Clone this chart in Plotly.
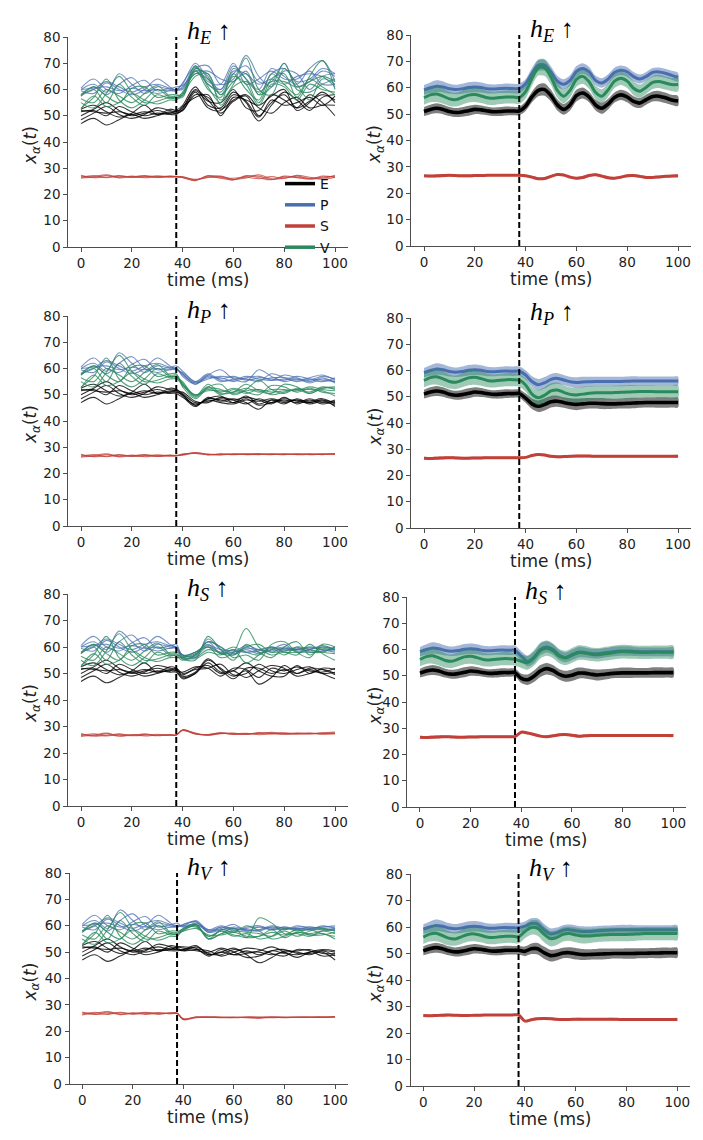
import plotly.graph_objects as go

W, H = 703, 1140        # browser window
OFF = 8                 # default page margin around the plot div
FW, FH = W - 2 * OFF, H - 2 * OFF

# ---------------- data ----------------
POPS = ["E", "P", "S", "V"]
ROW_STIM = ["E", "P", "S", "V"]          # population stimulated in each row
STIM_T = 37.5
X_TICKS = [0, 20, 40, 60, 80, 100]
Y_TICKS = [0, 10, 20, 30, 40, 50, 60, 70, 80]

# time grids (ms)
T_TR_PRE = [0, 5, 10, 15, 20, 25, 30, 35, 37.5]
T_TR_POST = [40, 45, 50, 55, 60, 65, 70, 75, 80, 85, 90, 95, 100]
T_M_PRE = [0, 2.5, 5, 7.5, 10, 12.5, 15, 17.5, 20, 22.5, 25, 27.5, 30, 32.5, 35, 37.5]
T_M_POST = [40, 42.5, 45, 47.5, 50, 52.5, 55, 57.5, 60, 62.5, 65, 67.5, 70,
            72.5, 75, 77.5, 80, 82.5, 85, 87.5, 90, 92.5, 95, 97.5, 100]

# ---- individual trials (left column), shared pre-stimulus part ----
TR_PRE_E = [
    [47, 49, 46.5, 48.5, 50.5, 49, 50, 51.5, 51],
    [48.5, 51, 53.5, 50.5, 49, 50.5, 53, 52, 51.5],
    [50, 52.5, 55, 52, 50, 51, 52, 51, 52],
    [51.5, 52, 50, 53.5, 51.5, 50, 51, 50.5, 50.5],
    [52, 51.5, 51, 51.5, 50.5, 51.5, 50.5, 51, 51],
    [52.5, 54, 51.5, 49.5, 51, 54, 50.5, 52.5, 52],
]
TR_PRE_P = [
    [60, 62, 59, 66, 62, 58.5, 61, 60, 60],
    [60.5, 64, 60, 58.5, 61.5, 63.5, 59.5, 60.5, 60],
    [59.5, 58.5, 62.5, 60, 58, 60, 64, 61, 59.5],
    [60, 60.5, 61, 59.5, 60.5, 59.5, 60, 59.5, 60],
    [58, 60, 63, 61, 59, 61, 62, 60.5, 61],
    [57.5, 61, 58, 62, 64.5, 60, 58.5, 59.5, 59.5],
]
TR_PRE_S = [
    [27, 26.5, 27.2, 26.3, 26.8, 27, 26.5, 26.9, 26.8],
    [26.5, 27.2, 26.4, 27, 26.5, 26.7, 27.1, 26.6, 26.8],
    [26.2, 26.8, 27.5, 26.5, 27, 26.4, 26.8, 27, 26.9],
    [27.3, 26.4, 26.6, 27.2, 26.6, 27.2, 26.6, 26.8, 26.7],
]
TR_PRE_V = [
    [53, 57, 64, 56, 53, 56, 60, 57, 57],
    [57.5, 60, 55, 62, 57, 54, 58, 56.5, 57],
    [55, 53, 58.5, 65, 59, 55, 55.5, 57, 56.5],
    [58, 61, 57.5, 55, 60.5, 61, 57, 58, 58],
    [56.5, 55, 60, 57.5, 55, 58.5, 61.5, 57.5, 57.5],
    [52.5, 57.5, 53.5, 55, 58.5, 56, 54.5, 56, 56],
]

# ---- post-stimulus trials, row 1 (h_E up) ----
TR_HE_E = [
    [52, 58, 57, 52.5, 56, 58, 53, 51, 55, 57, 53, 54, 54],
    [53, 60, 56, 51, 55.5, 57.5, 50, 55, 58, 53, 55.5, 58, 56],
    [54, 61, 54, 53, 59, 55, 48, 54, 59, 56, 52, 57, 58],
    [52.5, 59.5, 55.5, 55, 60, 53, 52, 58, 56, 53, 58, 55, 50],
    [53.5, 57, 58, 50, 57, 56, 54, 57.5, 60, 52, 55, 59, 55],
    [52, 59, 53, 52, 58, 55.5, 49.5, 56, 54, 55, 57, 54, 57.5],
]
TR_HE_P = [
    [60, 68, 69, 62, 64, 73, 65, 61, 67, 66, 60, 65, 66],
    [62, 70, 64, 60, 69, 64, 60, 68, 65, 62, 68, 71, 63],
    [61, 67, 66, 58, 66, 69, 63, 63, 70, 61, 63, 67, 65],
    [60.5, 69, 63, 62, 70, 62, 64, 67, 64, 64, 67, 62, 62],
    [61.5, 66, 67, 64, 63, 67, 58, 66, 68, 63, 64, 68, 66],
    [62.5, 68.5, 62, 60, 67, 66, 62, 64, 62, 65, 66, 65, 61],
]
TR_HE_S = [
    [26.8, 25.6, 26.5, 27, 25.8, 26.3, 27.5, 26, 26.2, 27, 26, 26.2, 27.2],
    [26.4, 25.4, 27, 26.2, 25.5, 27.2, 26.4, 25.6, 27, 26.5, 25.8, 27, 26.5],
    [26.6, 25.8, 26.6, 26.4, 26.2, 26.6, 26, 26.8, 26.2, 27.3, 26.6, 25.8, 26.6],
    [26.5, 25.3, 27.2, 26.8, 25.6, 26.9, 27, 25.7, 26.7, 26.4, 26.2, 26.6, 27],
]
TR_HE_V = [
    [57, 68, 65, 56, 62, 72, 60, 58, 68, 62, 56, 64, 62],
    [58, 69, 61, 55, 68, 64, 55, 64, 66, 57, 65, 71, 60],
    [59, 66, 64, 58, 63, 66, 58, 61, 70, 60, 59, 62, 64],
    [57.5, 67, 62, 59, 66, 60, 56, 66, 62, 58, 64, 61, 58],
    [58.5, 65, 66, 54, 61, 63, 59, 63, 63, 61, 63, 65, 63],
    [58, 67.5, 60, 57, 65, 62, 54, 62, 61, 56, 62, 60, 59],
]

# ---- row 2 (h_P up) ----
TR_HP_E = [
    [50, 46, 48.5, 49.5, 47, 48.5, 46, 47, 48.5, 47.5, 47, 48, 47],
    [49.5, 45.5, 49, 47.5, 48.5, 47, 44.5, 48, 47, 48, 46.5, 47.5, 46],
    [50.5, 47, 47.5, 48.5, 48, 49, 48, 46.5, 49, 46.5, 48, 46.5, 47.5],
    [49, 46.5, 48, 47, 46.5, 48, 47.5, 48.5, 47.5, 48, 47.5, 48.5, 46.5],
    [51, 47.5, 47, 49, 48, 46.5, 48.5, 47, 48, 47, 48.5, 47, 48],
    [50, 46, 48.5, 48, 47, 49.5, 46.5, 48, 46.5, 48.5, 47, 48, 45.5],
]
TR_HP_P = [
    [58, 54, 57.5, 59.5, 56, 55, 59.5, 57, 55, 56, 55.5, 57, 56],
    [57.5, 54.5, 56, 57, 56.5, 56, 55, 58, 56.5, 55, 56, 55.5, 55],
    [58.5, 55, 58, 55.5, 55.5, 57, 56, 55.5, 57.5, 56.5, 55, 56.5, 54.5],
    [57, 54, 57, 56, 57, 55.5, 56.5, 56, 55.5, 57, 56, 55, 56.5],
    [59, 55, 56.5, 56.5, 55, 56.5, 57, 55.5, 56, 55.5, 56.5, 57.5, 55.5],
    [58, 54.5, 57.5, 55, 56, 56, 55.5, 56.5, 56.5, 56, 54.5, 56, 55],
]
TR_HP_S = [
    [27.2, 28, 27.3, 27.1, 27.4, 27.5, 27.6, 27.3, 27.4, 27.3, 27.4, 27.3, 27.5],
    [27.4, 27.7, 27.1, 27.4, 27.2, 27.3, 27.2, 27.5, 27.3, 27.5, 27.2, 27.4, 27.3],
    [27, 27.9, 27.4, 27.2, 27.5, 27.2, 27.4, 27.4, 27.2, 27.4, 27.5, 27.2, 27.6],
    [27.3, 27.6, 27.2, 27.5, 27.3, 27.4, 27.3, 27.2, 27.5, 27.2, 27.3, 27.5, 27.4],
]
TR_HP_V = [
    [54, 49, 53, 54, 50, 52, 55.5, 52, 50.5, 52.5, 51, 53, 52],
    [53.5, 50, 52, 51, 52.5, 51, 50, 53.5, 53, 51, 52.5, 51, 50.5],
    [55, 49.5, 54, 50.5, 51, 54, 51.5, 50.5, 54, 53, 50.5, 52.5, 53],
    [53, 48.5, 52.5, 52, 50.5, 51.5, 52, 51, 51.5, 52, 52, 51.5, 49.5],
    [54.5, 50, 51.5, 51.5, 51, 52.5, 51, 52, 52, 51.5, 53, 52, 51.5],
    [54, 49.5, 53, 50, 52, 50.5, 52, 50, 51, 52, 50.5, 52.5, 52.5],
]

# ---- row 3 (h_S up) ----
TR_HS_E = [
    [48.5, 50, 55, 52, 49, 51, 46, 48.5, 53, 50, 51.5, 50, 50.5],
    [49.5, 52, 53, 50, 51, 54, 51, 49, 49, 53, 50, 52, 51.5],
    [50, 51.5, 52, 53.5, 49.5, 50, 53.5, 51, 50, 51.5, 52.5, 50, 48],
    [48, 50, 54, 50.5, 51, 48.5, 51, 53, 52, 49, 50, 51.5, 50],
    [50.5, 52.5, 52, 49, 52, 51.5, 48.5, 52, 51, 52.5, 51, 50.5, 52],
    [49, 50.5, 55.5, 51.5, 48, 52, 52, 50, 51.5, 50, 52, 51.5, 49.5],
]
TR_HS_P = [
    [56, 56, 63, 59, 57, 60, 58, 59, 61, 58, 59, 60, 59],
    [57, 58, 61, 57.5, 59, 58, 59, 60, 58.5, 60, 58, 58.5, 59.5],
    [55.5, 57, 62, 60, 57.5, 59, 57.5, 59, 60, 59, 60, 59, 58],
    [57, 56.5, 60, 58, 58, 60.5, 59, 58, 59.5, 58.5, 59, 60.5, 59],
    [56.5, 58, 60.5, 59, 58.5, 58, 58.5, 60, 59, 59.5, 58.5, 58.5, 60],
    [57, 57, 62, 57.5, 58, 59.5, 59, 58.5, 59.5, 59, 59.5, 59, 58.5],
]
TR_HS_S = [
    [28.8, 27.5, 26.8, 27.4, 27.5, 27, 27.7, 27.3, 27.2, 27.4, 27.3, 27.5, 27.6],
    [28.5, 27.2, 26.9, 27.6, 27, 27.3, 27.3, 27.8, 27.4, 27.1, 27.4, 27.3, 27.2],
    [28.6, 27.4, 26.6, 27.3, 27.3, 27.4, 26.9, 27.2, 27.6, 27.3, 27.2, 27.6, 27.9],
    [28.7, 27.2, 27, 27.6, 27.1, 27.1, 27.5, 27.5, 27.1, 27.5, 27.5, 27.1, 27.4],
]
TR_HS_V = [
    [55.5, 55, 64, 59, 55, 61, 58, 56, 60, 62, 57, 60, 59],
    [56.5, 58, 60, 56, 58, 67, 60, 57, 58, 57, 61, 57.5, 55],
    [55, 57, 62, 60, 56, 57, 55, 61, 62, 58, 56, 61, 60],
    [57, 56, 59, 58, 60, 58, 57, 59.5, 57, 60, 59, 58, 57.5],
    [56, 57.5, 60, 57.5, 57, 60, 61, 58, 58.5, 59, 60, 59.5, 59],
    [56, 55.5, 58, 57, 59, 54, 57, 60, 58, 58, 58, 58, 60],
]

# ---- row 4 (h_V up) ----
TR_HV_E = [
    [51, 52.5, 49, 50, 51.5, 49, 46, 48, 50.5, 50, 49, 50.5, 50],
    [50.5, 51, 50.5, 48.5, 50, 51.5, 51, 49.5, 48.5, 51, 50.5, 48.5, 49],
    [52, 51.5, 48.5, 51, 49, 49.5, 50.5, 52, 50, 48, 50, 51, 50.5],
    [51, 50.5, 50, 51.5, 50, 48, 48.5, 50.5, 51, 49.5, 49.5, 50, 47],
    [50.5, 52, 49.5, 49, 51, 50, 50, 49, 50, 50.5, 51, 49.5, 49.5],
    [51.5, 51, 49, 50, 49, 50.5, 49, 50.5, 49.5, 49, 50, 50.5, 48.5],
]
TR_HV_P = [
    [60, 62, 58, 59, 60.5, 58, 58.5, 60, 59, 59, 58.5, 60, 59],
    [59.5, 60.5, 58.5, 60, 58.5, 59, 59.5, 58.5, 59.5, 58.5, 59.5, 58.5, 58.5],
    [60.5, 61.5, 57.5, 58.5, 59.5, 58.5, 58, 59.5, 58.5, 60, 59, 59.5, 60],
    [60, 60.5, 58, 59.5, 58, 59.5, 60, 58.5, 59.5, 58.5, 58.5, 58.5, 59],
    [59.5, 61, 58.5, 58.5, 59, 58, 59.5, 59, 58.5, 59.5, 59.5, 59, 58],
    [60.5, 61.5, 57.5, 59.5, 59, 58.5, 58.5, 59.5, 59, 59, 59, 59.5, 59.5],
]
TR_HV_S = [
    [24.5, 25.4, 25.5, 25.2, 25.4, 25.1, 24.9, 25.3, 25.2, 25.4, 25.3, 25.5, 25.6],
    [24.8, 25.2, 25.3, 25.4, 25.1, 25.3, 25.4, 25.1, 25.4, 25.2, 25.3, 25.2, 25.4],
    [24.6, 25.5, 25.2, 25.3, 25.3, 25.5, 25.2, 25.4, 25.3, 25.3, 25.5, 25.4, 25.3],
    [24.4, 25.1, 25.4, 25.1, 25.2, 25.2, 25.3, 25.5, 25.1, 25.4, 25.2, 25.3, 25.5],
]
TR_HV_V = [
    [58, 60.5, 55, 57, 59, 55.5, 63, 61, 57, 57, 56, 58, 57],
    [59, 59.5, 56, 58, 56, 57, 55, 56, 59, 58, 58.5, 57, 56],
    [58.5, 60, 55, 58.5, 57.5, 60, 58, 55, 56, 57.5, 57, 58, 58.5],
    [58, 59, 56.5, 56.5, 57.5, 56, 56, 57.5, 56.5, 58.5, 56.5, 56.5, 57.5],
    [59, 60.5, 55, 57, 58, 57.5, 57, 56, 58, 56, 58, 59, 58],
    [58.5, 60, 56, 58, 56.5, 55.5, 56, 58.5, 55.5, 57.5, 56.5, 57, 55],
]

# ---- trial means (right column) ----
M_PRE_E = [51, 51.8, 52.2, 51.8, 51, 50.6, 50.8, 51.3, 51.8, 51.6, 51.2, 50.9, 51, 51.2, 51.2, 51.2]
M_PRE_P = [59.2, 60, 60.6, 60.3, 59.6, 59.3, 59.6, 60.1, 60.3, 60.1, 59.6, 59.5, 59.7, 59.8, 59.7, 59.7]
M_PRE_S = [26.6, 26.5, 26.6, 26.7, 26.8, 26.7, 26.6, 26.6, 26.7, 26.7, 26.8, 26.8, 26.8, 26.8, 26.8, 26.8]
M_PRE_V = [56.2, 57.3, 57.6, 56.8, 55.8, 55.5, 56.3, 57.2, 57.4, 56.9, 56.2, 56, 56.3, 56.5, 56.5, 56.3]

M_HE_E = [53, 56.5, 59, 59.3, 57, 53.5, 51.8, 53.5, 57, 58, 56.5, 53.5, 52.2, 53.8, 56.3, 57.3, 56.5, 54.8, 54.2, 55.5, 56.7, 56.8, 56.2, 55.4, 55]
M_HE_P = [61.5, 65.5, 68.5, 68.6, 66, 62.5, 61.3, 62.8, 66.2, 67.3, 66, 62.8, 61.8, 63.3, 65.8, 66.6, 66, 64.2, 63.3, 64.3, 65.8, 66, 65.5, 64.7, 64]
M_HE_S = [26.6, 26.1, 25.5, 25.6, 26.4, 27.1, 26.9, 26.1, 25.7, 26, 26.7, 27, 26.5, 25.9, 25.7, 26.1, 26.6, 26.7, 26.4, 26, 26, 26.2, 26.4, 26.5, 26.6]
M_HE_V = [58.5, 63.5, 67.5, 67.5, 64, 59, 56.8, 59, 63.2, 64.3, 62.3, 58.3, 56.8, 59.2, 62.5, 63.6, 62.5, 59.8, 58.7, 60.2, 62, 62.4, 61.8, 61.2, 61.2]

M_HP_E = [49.5, 47.3, 46.4, 47.1, 48.1, 48.3, 47.8, 47.3, 47.1, 47.3, 47.5, 47.5, 47.4, 47.3, 47.3, 47.4, 47.5, 47.6, 47.7, 47.8, 47.8, 47.8, 47.8, 47.8, 47.8]
M_HP_P = [58.3, 55.8, 54.6, 55.3, 56.6, 57, 56.4, 55.7, 55.4, 55.6, 55.7, 55.8, 55.8, 55.8, 55.8, 55.8, 55.9, 56, 56, 56, 56, 56, 56, 56, 56]
M_HP_S = [26.9, 27.6, 28, 27.8, 27.3, 27.1, 27.2, 27.3, 27.4, 27.4, 27.4, 27.3, 27.3, 27.3, 27.3, 27.3, 27.3, 27.3, 27.3, 27.3, 27.3, 27.3, 27.3, 27.3, 27.3]
M_HP_V = [54.5, 51, 49.6, 50.6, 52.2, 52.6, 51.7, 50.9, 50.7, 51, 51.3, 51.5, 51.5, 51.5, 51.6, 51.7, 51.8, 51.9, 52, 52, 52, 51.9, 51.9, 51.9, 51.9]

M_HS_E = [49, 48.5, 49.8, 51.8, 52.7, 52, 50.5, 49.8, 50.2, 51, 51, 50.6, 50.3, 50.5, 50.8, 51, 51.1, 51.1, 51.1, 51.1, 51.1, 51.2, 51.2, 51.2, 51.2]
M_HS_P = [57.5, 55.5, 57, 60, 61, 60, 57.8, 57, 58, 59, 58.9, 58.5, 58.4, 58.7, 59, 59.3, 59.4, 59.4, 59.2, 59.1, 59.1, 59.1, 59.1, 59.1, 59.1]
M_HS_S = [28.5, 28.2, 27.6, 27, 26.8, 27.1, 27.5, 27.6, 27.3, 27, 27.1, 27.2, 27.2, 27.2, 27.2, 27.2, 27.2, 27.2, 27.2, 27.2, 27.2, 27.2, 27.2, 27.2, 27.2]
M_HS_V = [55.5, 55, 56.8, 59.6, 60.5, 59.5, 57.5, 56.8, 57.8, 58.8, 58.7, 58.2, 58, 58.3, 58.6, 59, 59.2, 59.1, 59, 58.9, 58.9, 59, 59, 59, 59]

M_HV_E = [50.8, 51.8, 51.8, 50.3, 49.2, 49.5, 50.2, 50.3, 49.9, 49.6, 49.6, 49.7, 49.8, 49.9, 50, 50, 50, 50, 50.1, 50.1, 50.2, 50.2, 50.3, 50.3, 50.3]
M_HV_P = [60.3, 61.3, 61.1, 59, 57.4, 57.8, 58.8, 59, 58.6, 58.3, 58.3, 58.5, 58.7, 58.8, 58.9, 59, 59, 59, 59, 59, 59, 59, 59, 59, 59]
M_HV_S = [24.5, 25, 25.4, 25.5, 25.4, 25.2, 25.1, 25.1, 25.2, 25.2, 25.2, 25.2, 25.2, 25.2, 25.2, 25.1, 25.1, 25.1, 25.1, 25.1, 25.1, 25.1, 25.1, 25.1, 25.1]
M_HV_V = [58.3, 59.8, 59.6, 57.3, 55.6, 56, 57.2, 57.5, 57, 56.6, 56.6, 56.8, 57, 57.1, 57.2, 57.2, 57.2, 57.3, 57.4, 57.5, 57.5, 57.5, 57.5, 57.5, 57.5]

# spread (half-width of shaded band), on the full mean grid
BAND_E = [1.7, 1.8, 1.9, 1.8, 1.7, 1.7, 1.8, 1.9, 1.8, 1.7, 1.6, 1.6, 1.7, 1.7, 1.6, 1.6,
          1.8, 2.0, 2.2, 2.3, 2.2, 2.1, 2.0, 2.1, 2.2, 2.1, 2.0, 2.0, 2.1, 2.0, 1.9, 1.9,
          2.0, 2.0, 1.9, 1.9, 1.9, 2.0, 2.0, 1.9, 1.9]
BAND_P = [1.8, 2.0, 2.2, 2.1, 1.9, 1.8, 1.9, 2.0, 2.0, 1.9, 1.8, 1.7, 1.7, 1.8, 1.8, 1.8,
          1.8, 2.0, 2.2, 2.2, 2.1, 2.0, 1.9, 1.9, 2.0, 2.0, 1.9, 1.8, 1.8, 1.8, 1.8, 1.8,
          1.8, 1.8, 1.7, 1.7, 1.7, 1.7, 1.7, 1.7, 1.7]
BAND_S = [0.5, 0.5, 0.6, 0.6, 0.5, 0.5, 0.5, 0.5, 0.5, 0.5, 0.4, 0.4, 0.4, 0.4, 0.4, 0.4,
          0.4, 0.5, 0.5, 0.5, 0.5, 0.5, 0.5, 0.5, 0.5, 0.5, 0.5, 0.5, 0.5, 0.5, 0.5, 0.5,
          0.5, 0.5, 0.5, 0.5, 0.5, 0.5, 0.5, 0.5, 0.5]
BAND_V = [2.6, 2.8, 3.0, 2.9, 2.7, 2.6, 2.7, 2.8, 2.8, 2.7, 2.6, 2.5, 2.5, 2.5, 2.5, 2.5,
          2.5, 2.7, 2.9, 3.0, 2.9, 2.8, 2.7, 2.7, 2.8, 2.8, 2.7, 2.6, 2.6, 2.6, 2.6, 2.6,
          2.6, 2.6, 2.5, 2.5, 2.5, 2.5, 2.5, 2.5, 2.5]

# ---------------- styling ----------------
COLORS = {"E": (0, 0, 0), "P": (74, 111, 176), "S": (194, 64, 58), "V": (42, 138, 94)}
TRIAL_ALPHA = {"E": 0.8, "P": 0.75, "S": 0.75, "V": 0.8}
BAND_ALPHA = {"E": 0.5, "P": 0.5, "S": 0.45, "V": 0.45}
MEAN_WIDTH = {"E": 3.6, "P": 3.0, "S": 3.0, "V": 3.0}

# panel pixel boxes in window pixels: (x_left, x_right, y_top, y_bottom)
PANEL_PX = [
    [(68.3, 347.7, 37, 247), (411.3, 690.7, 35, 246)],
    [(68.3, 347.7, 316, 526), (411.3, 690.7, 318, 528)],
    [(68.3, 347.7, 594, 806), (407.3, 686.0, 597, 807)],
    [(69.6, 347.7, 873, 1084), (410.6, 690.0, 874, 1086)],
]
YLABEL_X_PX = [31, 375.5]
LEGEND_PX = (280, 168)


def px_x(px):
    return (px - OFF) / FW


def px_y(py):
    return 1 - (py - OFF) / FH


TRIALS = {
    "E": (TR_PRE_E, [TR_HE_E, TR_HP_E, TR_HS_E, TR_HV_E]),
    "P": (TR_PRE_P, [TR_HE_P, TR_HP_P, TR_HS_P, TR_HV_P]),
    "S": (TR_PRE_S, [TR_HE_S, TR_HP_S, TR_HS_S, TR_HV_S]),
    "V": (TR_PRE_V, [TR_HE_V, TR_HP_V, TR_HS_V, TR_HV_V]),
}
MEANS = {
    "E": (M_PRE_E, [M_HE_E, M_HP_E, M_HS_E, M_HV_E], BAND_E),
    "P": (M_PRE_P, [M_HE_P, M_HP_P, M_HS_P, M_HV_P], BAND_P),
    "S": (M_PRE_S, [M_HE_S, M_HP_S, M_HS_S, M_HV_S], BAND_S),
    "V": (M_PRE_V, [M_HE_V, M_HP_V, M_HS_V, M_HV_V], BAND_V),
}


def rgba(c, a):
    return "rgba(%d,%d,%d,%.3f)" % (c[0], c[1], c[2], a)


fig = go.Figure()
layout = dict(
    width=FW, height=FH, margin=dict(l=0, r=0, t=0, b=0, pad=0, autoexpand=False),
    paper_bgcolor="white", plot_bgcolor="white",
    font=dict(family="DejaVu Sans", size=13.5, color="#222"),
    showlegend=True,
    legend=dict(x=px_x(LEGEND_PX[0]), y=px_y(LEGEND_PX[1]), xanchor="left", yanchor="top",
                bgcolor="rgba(0,0,0,0)", font=dict(size=14, color="#111"),
                itemwidth=30, tracegroupgap=0, borderwidth=0),
)
annotations = []
shapes = []

T_TR = T_TR_PRE + T_TR_POST
T_M = T_M_PRE + T_M_POST

for row in range(4):
    for col in range(2):
        idx = row * 2 + col + 1
        xl, xr, yt, yb = PANEL_PX[row][col]
        xa = "x" if idx == 1 else "x%d" % idx
        ya = "y" if idx == 1 else "y%d" % idx
        xkey = "xaxis" if idx == 1 else "xaxis%d" % idx
        ykey = "yaxis" if idx == 1 else "yaxis%d" % idx
        axis_common = dict(showline=True, linecolor="#4d4d4d", linewidth=1.1,
                           ticks="outside", ticklen=4, tickwidth=1.1, tickcolor="#4d4d4d",
                           showgrid=False, zeroline=False, automargin=False,
                           tickfont=dict(family="DejaVu Sans", size=13.5, color="#222"))
        layout[xkey] = dict(axis_common, domain=[px_x(xl), px_x(xr)], range=[-5, 105],
                            tickvals=X_TICKS, anchor=ya)
        layout[ykey] = dict(axis_common, domain=[px_y(yb), px_y(yt)], range=[0, 80],
                            tickvals=Y_TICKS, anchor=xa)

        if col == 0:
            for pop in POPS:
                pre, posts = TRIALS[pop]
                post = posts[row]
                for i in range(len(pre)):
                    fig.add_trace(go.Scatter(
                        x=T_TR, y=pre[i] + post[i], mode="lines",
                        line=dict(color=rgba(COLORS[pop], TRIAL_ALPHA[pop]), width=1.1,
                                  shape="spline", smoothing=1.0),
                        showlegend=False, hoverinfo="skip", xaxis=xa, yaxis=ya))
        else:
            for pop in POPS:
                pre, posts, band = MEANS[pop]
                m = pre + posts[row]
                upper = [v + b for v, b in zip(m, band)]
                lower = [v - b for v, b in zip(m, band)]
                fig.add_trace(go.Scatter(
                    x=T_M + T_M[::-1], y=upper + lower[::-1], mode="lines",
                    fill="toself", fillcolor=rgba(COLORS[pop], BAND_ALPHA[pop]),
                    line=dict(width=0, shape="spline", smoothing=0.8),
                    showlegend=False, hoverinfo="skip", xaxis=xa, yaxis=ya))
                fig.add_trace(go.Scatter(
                    x=T_M, y=m, mode="lines",
                    line=dict(color=rgba(COLORS[pop], 1.0), width=MEAN_WIDTH[pop],
                              shape="spline", smoothing=0.8),
                    showlegend=False, hoverinfo="skip", xaxis=xa, yaxis=ya))

        # stimulus onset
        shapes.append(dict(type="line", xref=xa, yref="%s domain" % ya,
                           x0=STIM_T, x1=STIM_T, y0=0, y1=1,
                           line=dict(color="black", width=2, dash="6px,3px")))
        # stimulus label
        annotations.append(dict(
            xref=xa, yref="%s domain" % ya, x=40.8, y=1.0, xanchor="left", yanchor="middle",
            yshift=5, showarrow=False,
            text="<i>h</i><sub><i>%s</i></sub> ↑" % ROW_STIM[row],
            font=dict(family="Liberation Serif, DejaVu Serif", size=26, color="black")))
        # y label
        annotations.append(dict(
            xref="paper", yref="paper", x=px_x(YLABEL_X_PX[col]),
            y=px_y((yt + yb) / 2 + 4), xanchor="center", yanchor="middle",
            textangle=-90, showarrow=False,
            text="<i>x</i><sub><i>α</i></sub>(<i>t</i>)",
            font=dict(family="DejaVu Sans", size=17, color="#222")))
        # x label
        annotations.append(dict(
            xref=xa, yref="paper", x=50, y=px_y(yb + 33), xanchor="center",
            yanchor="middle", showarrow=False, text="time (ms)",
            font=dict(family="DejaVu Sans", size=17, color="#222")))

# legend entries (first panel)
for pop in POPS:
    fig.add_trace(go.Scatter(x=[None], y=[None], mode="lines", name=pop,
                             line=dict(color=rgba(COLORS[pop], 1.0), width=3.5),
                             xaxis="x", yaxis="y", hoverinfo="skip"))

layout["annotations"] = annotations
layout["shapes"] = shapes
fig.update_layout(**layout)
fig.write_html("out.html")
